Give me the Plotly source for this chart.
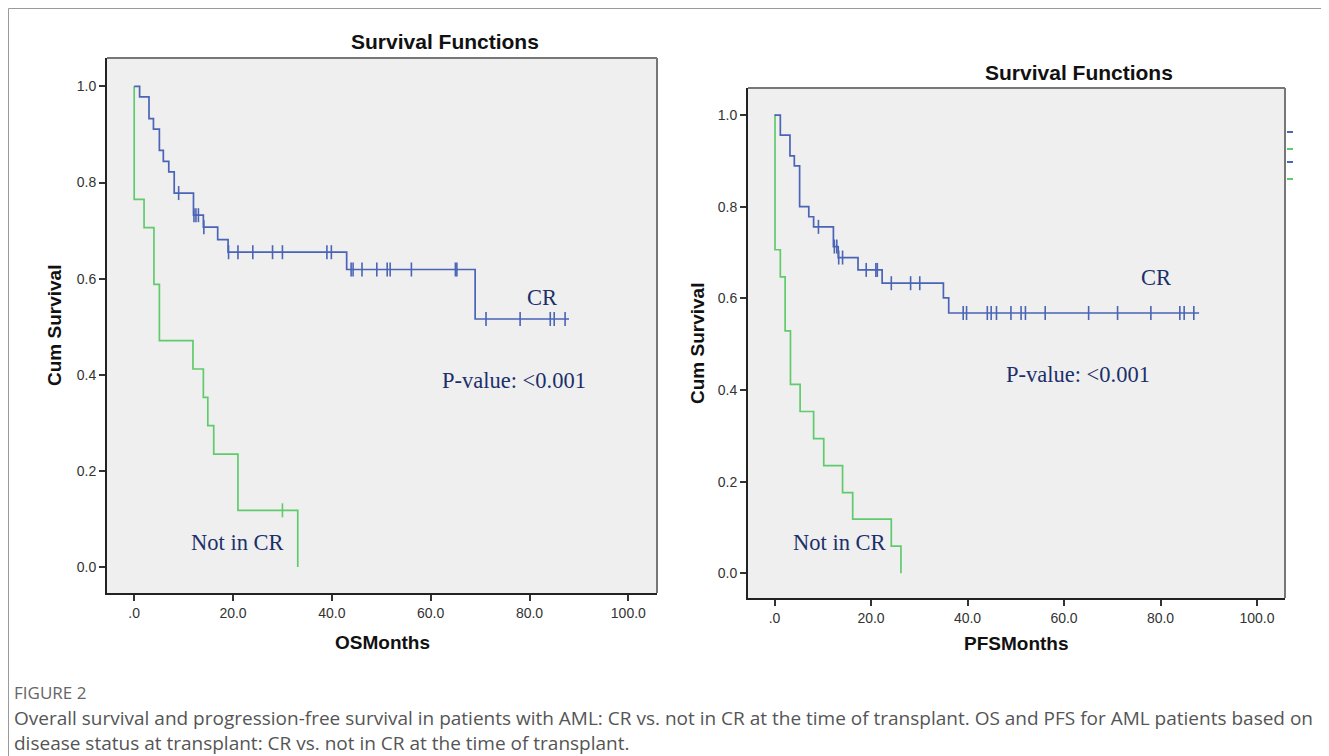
import numpy as np
import plotly.graph_objects as go

# page is 1329x756; the browser body adds an 8px margin, so the figure fills the rest
OFF = 8
FW, FH = 1329 - OFF, 756 - OFF

# ---------------- data ----------------
# Overall survival (left panel)
os_cr_times = [0.0, 1.1, 3.0, 3.9, 5.1, 5.9, 7.0, 8.1, 12.0, 14.0, 16.9, 19.0, 43.0, 69.0, 88.0]
os_cr_surv = [1.0, 0.978, 0.933, 0.911, 0.867, 0.844, 0.822, 0.778, 0.732, 0.707, 0.681, 0.655, 0.619, 0.516, 0.516]
os_cr_censor = [9.0, 12.1, 12.5, 13.0, 14.1, 19.1, 21.0, 24.0, 28.0, 30.0, 39.0, 39.9, 43.9, 44.3,
                46.1, 49.1, 51.2, 51.8, 56.1, 65.0, 65.3, 71.2, 78.1, 84.2, 85.0, 87.2]

os_ncr_times = [0.0, 0.0, 2.0, 4.0, 5.1, 11.9, 14.0, 14.9, 16.1, 21.0, 33.1]
os_ncr_surv = [1.0, 0.765, 0.706, 0.588, 0.471, 0.412, 0.353, 0.294, 0.235, 0.118, 0.0]
os_ncr_censor = [30.0]

# Progression-free survival (right panel)
pfs_cr_times = [0.0, 1.2, 3.2, 4.1, 5.2, 7.1, 8.1, 12.2, 13.2, 17.3, 22.3, 35.0, 36.1, 88.0]
pfs_cr_surv = [1.0, 0.956, 0.911, 0.889, 0.800, 0.778, 0.756, 0.713, 0.689, 0.662, 0.633, 0.601, 0.568, 0.568]
pfs_cr_censor = [9.1, 12.4, 12.9, 13.3, 14.1, 19.0, 21.0, 21.3, 24.2, 28.2, 30.1, 39.1, 39.8, 44.1,
                 44.9, 46.0, 49.0, 51.1, 52.0, 56.1, 65.1, 71.1, 78.0, 84.0, 84.9, 86.9]

pfs_ncr_times = [0.0, 0.1, 1.2, 2.2, 3.3, 5.3, 8.1, 10.2, 14.1, 16.2, 24.2, 26.2]
pfs_ncr_surv = [1.0, 0.706, 0.647, 0.529, 0.412, 0.353, 0.294, 0.235, 0.176, 0.118, 0.059, 0.0]
pfs_ncr_censor = []

x_ticks = [0, 20, 40, 60, 80, 100]
x_tick_labels = [".0", "20.0", "40.0", "60.0", "80.0", "100.0"]
y_ticks = [0.0, 0.2, 0.4, 0.6, 0.8, 1.0]
y_tick_labels = ["0.0", "0.2", "0.4", "0.6", "0.8", "1.0"]

caption_head = "FIGURE 2"
caption_text = ("Overall survival and progression-free survival in patients with AML: CR vs. not in CR at the time of transplant. "
                "OS and PFS for AML patients based on<br>disease status at transplant: CR vs. not in CR at the time of transplant.")

BLUE = "#4A64B6"
GREEN = "#5FCB6C"
NAVY = "#1B2F6B"


def step_value(times, surv, t):
    idx = np.searchsorted(np.array(times), t, side="right") - 1
    return surv[max(idx, 0)]


def px(x):
    return (x - OFF) / FW


def py(y):
    return 1 - (y - OFF) / FH


fig = go.Figure()

panels = [
    ("x", "y", os_cr_times, os_cr_surv, os_cr_censor, os_ncr_times, os_ncr_surv, os_ncr_censor),
    ("x2", "y2", pfs_cr_times, pfs_cr_surv, pfs_cr_censor, pfs_ncr_times, pfs_ncr_surv, pfs_ncr_censor),
]

for xa, ya, ct, cs, cc, nt, ns, nc in panels:
    fig.add_trace(go.Scatter(x=nt, y=ns, mode="lines", line=dict(color=GREEN, width=1.7, shape="hv"),
                             xaxis=xa, yaxis=ya, showlegend=False, hoverinfo="skip"))
    if nc:
        fig.add_trace(go.Scatter(x=nc, y=[step_value(nt, ns, t) for t in nc], mode="markers",
                                 marker=dict(symbol="line-ns-open", size=10, color=GREEN,
                                             line=dict(color=GREEN, width=1.6)),
                                 xaxis=xa, yaxis=ya, showlegend=False, hoverinfo="skip"))
    fig.add_trace(go.Scatter(x=ct, y=cs, mode="lines", line=dict(color=BLUE, width=1.7, shape="hv"),
                             xaxis=xa, yaxis=ya, showlegend=False, hoverinfo="skip"))
    fig.add_trace(go.Scatter(x=cc, y=[step_value(ct, cs, t) for t in cc], mode="markers",
                             marker=dict(symbol="line-ns-open", size=10, color=BLUE,
                                         line=dict(color=BLUE, width=1.6)),
                             xaxis=xa, yaxis=ya, showlegend=False, hoverinfo="skip"))

tickfont = dict(family="Liberation Sans, Arial, sans-serif", size=14, color="#333333")
axis_common = dict(showgrid=False, zeroline=False, showline=True, linecolor="#222222", linewidth=2,
                   ticks="outside", ticklen=6, tickwidth=2, tickcolor="#333333", tickfont=tickfont)

x_range = [-5.5, 105.8]
y_range = [-0.054, 1.059]

fig.update_layout(
    width=FW, height=FH,
    margin=dict(l=0, r=0, t=0, b=0),
    paper_bgcolor="white",
    plot_bgcolor="#EFEFEF",
    xaxis=dict(domain=[px(107), px(657)], range=x_range, tickvals=x_ticks, ticktext=x_tick_labels,
               anchor="y", **axis_common),
    yaxis=dict(domain=[py(593), py(58)], range=y_range, tickvals=y_ticks, ticktext=y_tick_labels,
               anchor="x", **axis_common),
    xaxis2=dict(domain=[px(748), px(1285)], range=x_range, tickvals=x_ticks, ticktext=x_tick_labels,
                anchor="y2", **axis_common),
    yaxis2=dict(domain=[py(598), py(88)], range=y_range, tickvals=y_ticks, ticktext=y_tick_labels,
                anchor="x2", **axis_common),
)

# gray top/right frame of each panel
for xd, yd in [("x domain", "y domain"), ("x2 domain", "y2 domain")]:
    fig.add_shape(type="line", xref=xd, yref=yd, x0=0, x1=1, y0=1, y1=1, line=dict(color="#777777", width=2))
    fig.add_shape(type="line", xref=xd, yref=yd, x0=1, x1=1, y0=0, y1=1, line=dict(color="#777777", width=2))

# outer figure border (top and left edges visible)
fig.add_shape(type="line", xref="paper", yref="paper", x0=px(8.5), x1=1, y0=py(8.5), y1=py(8.5),
              line=dict(color="#9A9A9A", width=1))
fig.add_shape(type="line", xref="paper", yref="paper", x0=px(8.5), x1=px(8.5), y0=0, y1=py(8.5),
              line=dict(color="#9A9A9A", width=1))

# remnants of the cropped legend at the right edge
for yy, col in [(132, BLUE), (149, GREEN), (162, BLUE), (179, GREEN)]:
    fig.add_shape(type="line", xref="paper", yref="paper", x0=px(1287), x1=px(1293), y0=py(yy), y1=py(yy),
                  line=dict(color=col, width=2))

title_font = dict(family="Liberation Sans, Arial, sans-serif", size=21, color="#111111")
axt_font = dict(family="Liberation Sans, Arial, sans-serif", size=19, color="#111111")
lab_font = dict(family="Liberation Serif, Times New Roman, serif", size=22.5, color=NAVY)

ann = []
ann.append(dict(text="<b>Survival Functions</b>", x=px(445), y=py(42), xref="paper", yref="paper", font=title_font))
ann.append(dict(text="<b>Survival Functions</b>", x=px(1079), y=py(72), xref="paper", yref="paper", font=title_font))
ann.append(dict(text="<b>Cum Survival</b>", x=px(55), y=py(326), xref="paper", yref="paper", textangle=-90, font=axt_font))
ann.append(dict(text="<b>Cum Survival</b>", x=px(697), y=py(343), xref="paper", yref="paper", textangle=-90, font=axt_font))
ann.append(dict(text="<b>OSMonths</b>", x=px(382), y=py(642), xref="paper", yref="paper", font=axt_font))
ann.append(dict(text="<b>PFSMonths</b>", x=px(1016), y=py(643), xref="paper", yref="paper", font=axt_font))

# in-plot labels (data coordinates)
ann.append(dict(text="CR", x=82.6, y=0.56, xref="x", yref="y", font=lab_font))
ann.append(dict(text="P-value: <0.001", x=76.9, y=0.388, xref="x", yref="y", font=lab_font))
ann.append(dict(text="Not in CR", x=20.9, y=0.052, xref="x", yref="y", font=lab_font))
ann.append(dict(text="CR", x=79.1, y=0.645, xref="x2", yref="y2", font=lab_font))
ann.append(dict(text="P-value: <0.001", x=62.9, y=0.434, xref="x2", yref="y2", font=lab_font))
ann.append(dict(text="Not in CR", x=13.5, y=0.068, xref="x2", yref="y2", font=lab_font))

for a in ann:
    a.setdefault("xanchor", "center")
    a.setdefault("yanchor", "middle")

# caption
ann.append(dict(text=caption_head, x=px(12), y=py(692), xref="paper", yref="paper", xanchor="left", yanchor="middle",
                font=dict(family="Open Sans, sans-serif", size=17, color="#666666")))
ann.append(dict(text=caption_text, x=px(12), y=py(730), xref="paper", yref="paper", xanchor="left", yanchor="middle",
                align="left", font=dict(family="Open Sans, sans-serif", size=19, color="#555555")))

for a in ann:
    a.setdefault("showarrow", False)
fig.update_layout(annotations=ann)

fig.write_html("out.html")
